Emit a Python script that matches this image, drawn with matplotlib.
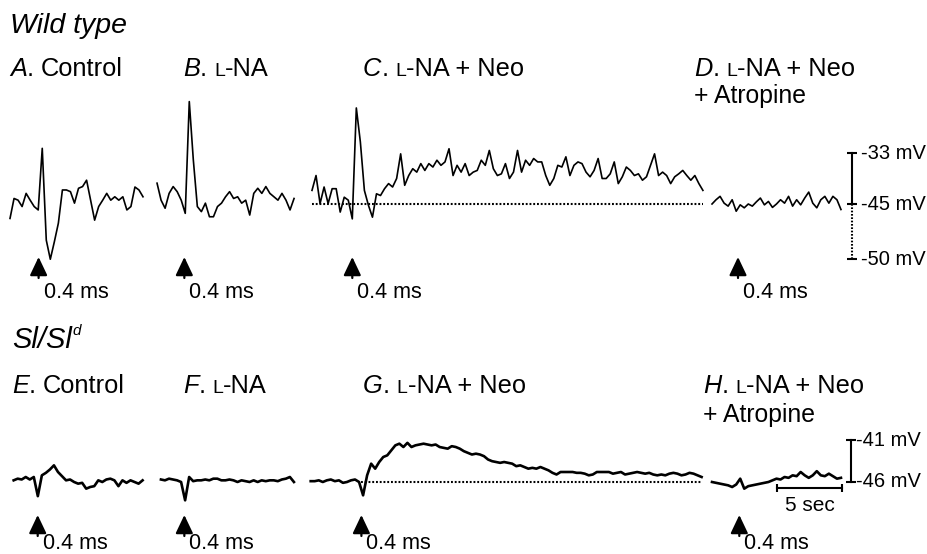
import numpy as np
import matplotlib.pyplot as plt

plt.rcParams['font.family'] = ['Liberation Sans', 'DejaVu Sans']

DT = 0.31  # s between digitised samples

# Wild type, membrane potential (mV)
wt_a = [-48.4, -43.7, -44.1, -45.6, -42.5, -44.1, -45.6, -46.4, -31.9, -53.5,
        -58.0, -53.9, -49.5, -41.7, -41.7, -42.1, -44.8, -41.3, -40.9, -39.4,
        -44.1, -48.8, -45.6, -44.1, -42.5, -44.1, -43.3, -44.1, -43.3, -46.4,
        -45.6, -41.0, -41.7, -43.3]
wt_b = [-40.1, -44.1, -46.0, -42.5, -40.9, -42.1, -44.1, -47.2, -20.9, -34.6,
        -45.6, -46.8, -44.8, -48.0, -48.0, -45.6, -44.8, -43.3, -42.1, -43.7,
        -43.3, -44.8, -44.1, -47.6, -42.5, -41.3, -42.5, -40.9, -42.5, -43.3,
        -44.1, -42.5, -44.1, -46.4, -43.7]
wt_c = [-41.8, -38.3, -44.9, -41.0, -44.9, -41.4, -41.4, -46.9, -43.4, -44.1,
        -48.5, -22.4, -30.4, -41.8, -45.3, -48.1, -42.6, -43.0, -41.4, -40.2,
        -41.0, -39.0, -33.2, -40.6, -38.3, -36.7, -37.5, -35.5, -37.1, -35.5,
        -36.3, -34.7, -35.9, -35.1, -32.0, -38.3, -35.9, -37.5, -35.5, -38.3,
        -37.5, -37.1, -34.7, -35.9, -32.4, -36.7, -38.3, -37.9, -35.5, -39.0,
        -37.5, -32.4, -37.5, -34.7, -35.9, -34.3, -35.1, -35.1, -38.3, -40.6,
        -39.0, -35.9, -36.3, -33.9, -38.3, -35.9, -35.1, -35.5, -37.5, -38.6,
        -37.1, -34.3, -39.0, -39.0, -37.9, -35.1, -40.2, -38.6, -36.3, -37.1,
        -38.3, -37.9, -39.4, -38.6, -35.9, -33.2, -38.3, -37.5, -38.3, -40.2,
        -38.6, -37.9, -37.1, -38.3, -39.4, -38.3, -40.2, -41.8]
wt_d = [-45.0, -44.0, -43.2, -44.8, -45.5, -44.0, -46.7, -45.2, -45.9, -45.0,
        -45.5, -44.5, -43.6, -45.2, -44.4, -45.8, -45.0, -44.0, -44.8, -43.2,
        -45.5, -44.0, -45.2, -43.6, -42.2, -44.8, -45.9, -44.0, -43.2, -44.8,
        -43.2, -44.0, -46.3]

# Sl/Sl^d, membrane potential (mV)
sl_e = [-45.8, -45.6, -45.7, -45.4, -45.7, -45.4, -47.7, -45.2, -44.9, -44.5,
        -44.0, -44.8, -45.3, -45.8, -45.7, -46.0, -46.2, -46.1, -46.8, -46.6,
        -46.5, -45.8, -46.0, -45.7, -45.6, -45.8, -46.5, -45.8, -46.1, -45.8,
        -46.0, -46.2, -45.8]
sl_f = [-45.7, -45.8, -45.6, -45.7, -45.8, -46.0, -48.2, -45.4, -45.9, -45.8,
        -45.8, -45.7, -45.8, -45.6, -45.6, -45.8, -45.8, -45.7, -45.8, -46.0,
        -45.8, -45.9, -46.0, -45.8, -46.0, -45.8, -45.9, -45.8, -45.8, -45.9,
        -45.7, -45.6, -45.4, -46.0]
sl_g = [-45.9, -45.9, -45.8, -46.0, -45.8, -45.7, -45.9, -45.8, -46.1, -46.0,
        -45.8, -45.7, -46.0, -47.6, -45.2, -43.8, -44.4, -43.6, -43.0, -42.8,
        -42.2, -41.6, -41.4, -41.8, -41.3, -41.8, -41.6, -41.5, -41.4, -41.5,
        -41.6, -41.5, -41.8, -41.9, -42.0, -41.7, -41.8, -42.0, -42.3, -42.5,
        -42.7, -42.6, -42.7, -42.9, -43.3, -43.5, -43.6, -43.7, -43.6, -43.7,
        -43.8, -44.1, -44.0, -44.2, -44.4, -44.3, -44.4, -44.2, -44.4, -44.6,
        -44.9, -45.1, -44.8, -44.8, -44.8, -44.8, -44.9, -44.9, -45.0, -45.2,
        -45.1, -44.8, -44.8, -44.8, -44.8, -45.0, -44.9, -44.8, -45.1, -45.0,
        -44.9, -44.8, -44.9, -45.0, -44.9, -45.1, -45.2, -45.1, -45.2, -45.0,
        -44.9, -45.0, -45.2, -45.1, -44.9, -45.0, -45.2, -45.4]
sl_h = [-46.0, -46.1, -46.2, -46.3, -46.4, -46.6, -46.3, -45.6, -46.8, -46.5,
        -46.4, -46.3, -46.2, -46.1, -46.0, -45.8, -45.6, -45.7, -45.4, -45.5,
        -45.2, -45.3, -44.8, -45.2, -45.5, -45.2, -44.7, -45.2, -45.3, -45.0,
        -45.3, -45.6, -45.5]

letters_top = ['A', 'B', 'C', 'D']
letters_bot = ['E', 'F', 'G', 'H']
conditions = ['Control', 'L-NA', 'L-NA + Neo', 'L-NA + Neo']
extra_line = '+ Atropine'
stim_label = '0.4 ms'
stim_top = [2.2, 2.1, 3.1, 2.0]   # s after sweep start
stim_bot = [1.85, 1.8, 3.9, 2.1]
ref_top = -45
ref_bot = -46
scale_top = [-33, -45, -50]
scale_bot = [-41, -46]
time_bar = 5  # sec

# layout (pixels of the 927x554 picture)
W, H = 927, 554
PX_S = 13.0
start_top = [0.77, 12.08, 24.0, 54.77]
start_bot = [1.05, 12.38, 23.9, 54.77]
LABEL_SIZE = 18.3

fig = plt.figure(figsize=(W / 100, H / 100), dpi=100)


def make_ax(px_mv, y_ref, v_ref):
    ax = fig.add_axes([0, 0, 1, 1])
    ax.set_xlim(0, W / PX_S)
    ax.set_ylim(v_ref - (H - y_ref) / px_mv, v_ref + y_ref / px_mv)
    ax.axis('off')
    ax.patch.set_alpha(0)
    return ax


ax_t = make_ax(4.25, 204, ref_top)
ax_b = make_ax(8.33, 482, ref_bot)

for ax, traces, starts, lw in ((ax_t, [wt_a, wt_b, wt_c, wt_d], start_top, 1.2),
                               (ax_b, [sl_e, sl_f, sl_g, sl_h], start_bot, 1.9)):
    for v, t0 in zip(traces, starts):
        t = t0 + DT * np.arange(len(v))
        ax.plot(t, v, color='black', lw=lw, solid_joinstyle='round')

# dotted reference lines
tc_end = start_top[2] + DT * (len(wt_c) - 1)
ax_t.plot([start_top[2], tc_end], [ref_top, ref_top], color='black', lw=1.5, ls=(0, (0.9, 0.9)))
tg_end = start_bot[2] + DT * (len(sl_g) - 1)
ax_b.plot([start_bot[2] + stim_bot[2], tg_end], [ref_bot, ref_bot], color='black', lw=1.5,
          ls=(0, (0.9, 0.9)))

# stimulus arrows
arrow = dict(arrowstyle='-|>,head_length=0.8,head_width=0.38', mutation_scale=14,
             color='black', lw=1.6, shrinkA=0, shrinkB=0)
for ax, starts, stims, tip, base in ((ax_t, start_top, stim_top, 257, 298),
                                     (ax_b, start_bot, stim_bot, 515, 549)):
    for t0, s in zip(starts, stims):
        x = t0 + s
        ax.annotate('', xy=(x, H - tip), xycoords=('data', 'figure pixels'),
                    xytext=(x, H - tip - 21), textcoords=('data', 'figure pixels'),
                    arrowprops=arrow)
        ax.annotate(stim_label, xy=(x, H - base), xycoords=('data', 'figure pixels'),
                    xytext=(5, 0), textcoords='offset pixels', fontsize=15.5, va='baseline')

# voltage scale bars
xb = 851.7 / PX_S
ax_t.plot([xb, xb], [scale_top[1], scale_top[0]], color='black', lw=1.5,
          marker='_', ms=7, mew=1.5)
v_break = scale_top[1] - 55 / 4.25  # broken part of the scale
ax_t.plot([xb, xb], [scale_top[1], v_break], color='black', lw=1.5, ls=(0, (0.8, 0.8)),
          marker='_', ms=7, mew=1.5, markevery=[1])
for v, y in zip(scale_top, [scale_top[0], scale_top[1], v_break]):
    ax_t.annotate('%d mV' % v, xy=(xb, y), xytext=(9, 0), textcoords='offset pixels',
                  fontsize=14.5, va='center')

xb2 = 851.0 / PX_S
ax_b.plot([xb2, xb2], scale_bot, color='black', lw=1.5, marker='_', ms=7, mew=1.5)
for v in scale_bot:
    ax_b.annotate('%d mV' % v, xy=(xb2, v), xytext=(5, 0), textcoords='offset pixels',
                  fontsize=14.5, va='center')

# time scale bar
t_bar0 = 777.3 / PX_S
y_bar = ref_bot - 5.7 / 8.33
ax_b.plot([t_bar0, t_bar0 + time_bar], [y_bar, y_bar], color='black', lw=1.5,
          marker='|', ms=6, mew=1.5)
ax_b.annotate('%d sec' % time_bar, xy=(t_bar0 + time_bar / 2, y_bar), xytext=(0, -8),
              textcoords='offset pixels', fontsize=15, ha='center', va='top')

# text
renderer = fig.canvas.get_renderer()


def put_text(x, y, parts):
    for p in parts:
        if isinstance(p, (int, float)):
            x += p
            continue
        s, size, style, dy = p
        t = fig.text(x / W, 1 - (y - dy) / H, s, fontsize=size, style=style,
                     ha='left', va='baseline')
        x += t.get_window_extent(renderer).width


def panel_label(x, y, letter, cond):
    parts = [(letter, LABEL_SIZE, 'italic', 0), ('.', LABEL_SIZE, 'normal', 0), 7]
    if cond.startswith('L-'):
        parts += [('L', 14, 'normal', 0), (cond[1:], LABEL_SIZE, 'normal', 0)]
    else:
        parts += [(cond, LABEL_SIZE, 'normal', 0)]
    put_text(x, y, parts)


put_text(10, 33, [('Wild type', 20.5, 'italic', 0)])
put_text(12, 348, [('Sl/Sl', 21, 'italic', 0), 1, ('d', 11, 'italic', 13)])

for letter, cond, x in zip(letters_top, conditions, [10, 183, 363, 694]):
    panel_label(x, 76, letter, cond)
put_text(694, 103, [(extra_line, 17.8, 'normal', 0)])

for letter, cond, x in zip(letters_bot, conditions, [12, 183, 363, 703]):
    panel_label(x, 393, letter, cond)
put_text(703, 422, [(extra_line, 17.8, 'normal', 0)])

fig.savefig('out.png', dpi=100)
